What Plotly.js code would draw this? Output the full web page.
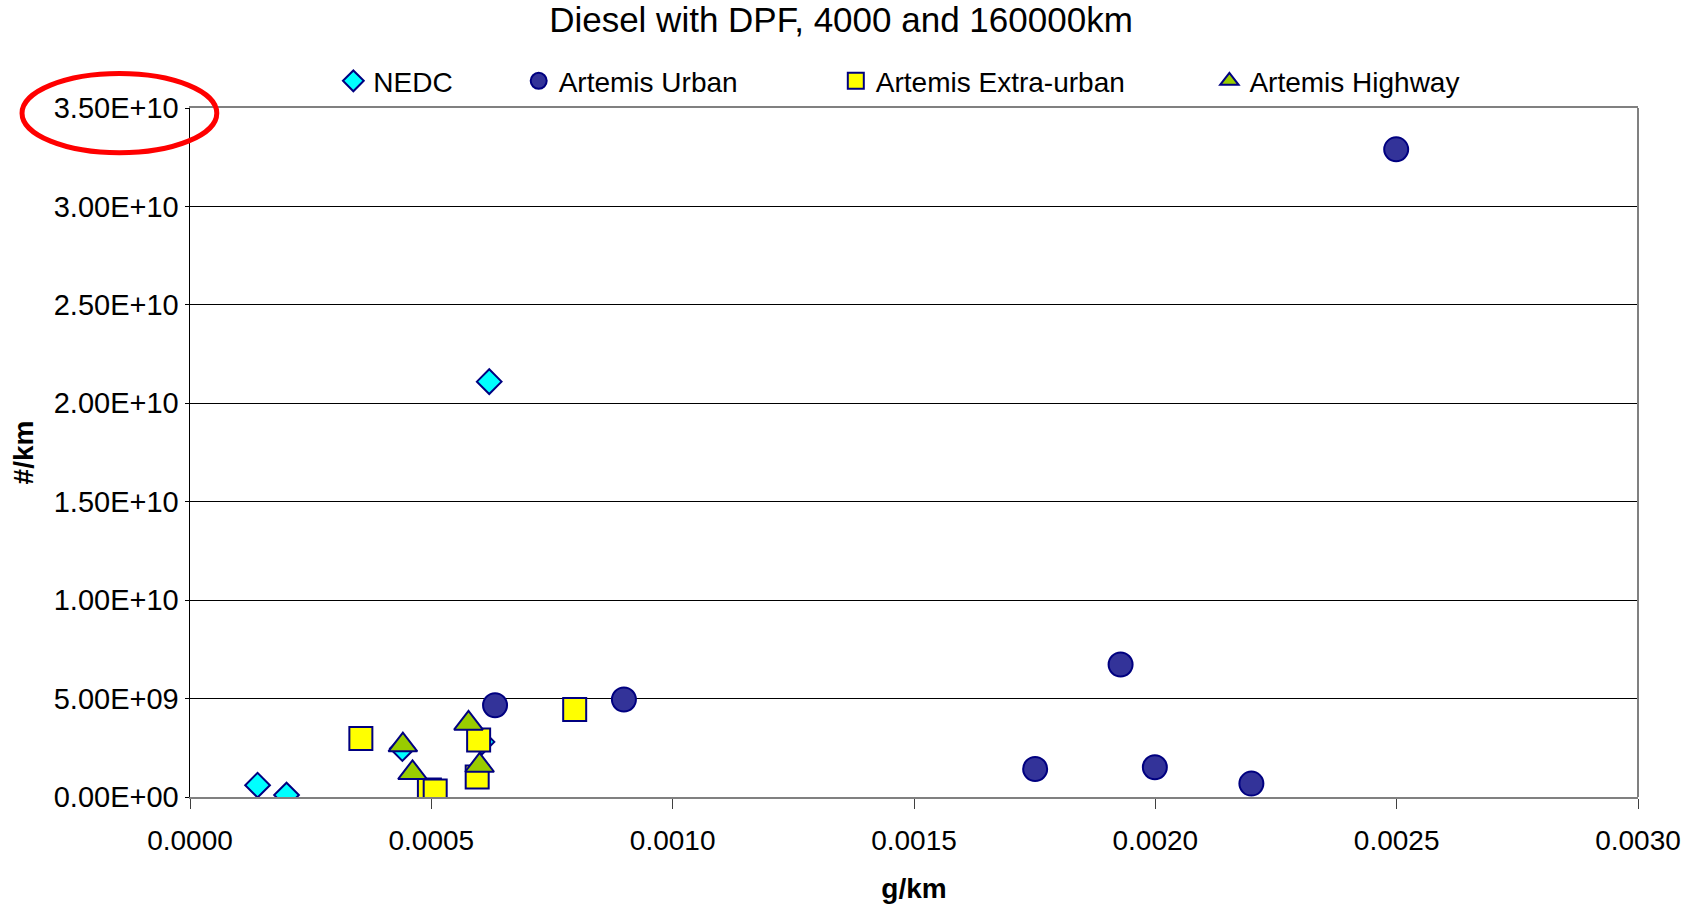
<!DOCTYPE html>
<html>
<head>
<meta charset="utf-8">
<script src="https://cdn.plot.ly/plotly-3.0.1.min.js"></script>
<style>html,body{margin:0;padding:0;background:#fff;}#chart{width:1700px;height:904px;}</style>
</head>
<body>
<div id="chart"></div>
<script>
const seriesNames = ["NEDC", "Artemis Urban", "Artemis Extra-urban", "Artemis Highway"];

const nedcX = [0.00014, 0.00020, 0.00044, 0.000605, 0.00062];
const nedcY = [0.60e9, 0.10e9, 2.46e9, 2.80e9, 2.11e10];

const urbanX = [0.000632, 0.000899, 0.001751, 0.001928, 0.001999, 0.002199, 0.002499];
const urbanY = [4.66e9, 4.95e9, 1.42e9, 6.73e9, 1.51e9, 0.68e9, 3.29e10];

const extraX = [0.000354, 0.000496, 0.000508, 0.000598, 0.000595, 0.000797];
const extraY = [2.97e9, 0.35e9, 0.30e9, 2.89e9, 1.02e9, 4.45e9];

const highwayX = [0.000441, 0.000461, 0.000577, 0.000600];
const highwayY = [2.64e9, 1.23e9, 3.74e9, 1.60e9];

const yTickVals = [0, 5e9, 1e10, 1.5e10, 2e10, 2.5e10, 3e10, 3.5e10];
const yTickText = ["0.00E+00", "5.00E+09", "1.00E+10", "1.50E+10", "2.00E+10", "2.50E+10", "3.00E+10", "3.50E+10"];
const xTickVals = [0, 0.0005, 0.001, 0.0015, 0.002, 0.0025, 0.003];
const xTickText = ["0.0000", "0.0005", "0.0010", "0.0015", "0.0020", "0.0025", "0.0030"];

const FONT = "Liberation Sans, Arial, sans-serif";
const outline = {color: "#000080", width: 2};

const traces = [
  {x: nedcX, y: nedcY, name: seriesNames[0], type: "scatter", mode: "markers", legend: "legend",
   marker: {symbol: "diamond", size: 19, color: "#00ffff", line: outline}},
  {x: urbanX, y: urbanY, name: seriesNames[1], type: "scatter", mode: "markers", legend: "legend2",
   marker: {symbol: "circle", size: 24, color: "#333399", line: outline}},
  {x: extraX, y: extraY, name: seriesNames[2], type: "scatter", mode: "markers", legend: "legend3",
   marker: {symbol: "square", size: 23, color: "#ffff00", line: outline}},
  {x: highwayX, y: highwayY, name: seriesNames[3], type: "scatter", mode: "markers", legend: "legend4",
   marker: {symbol: "triangle-up", size: 25, color: "#99cc00", line: outline}}
];

function leg(x) {
  return {x: x, xanchor: "left", y: 1.039, yanchor: "middle", orientation: "h",
          itemsizing: "trace",
          bgcolor: "rgba(0,0,0,0)", borderwidth: 0,
          font: {family: FONT, size: 28, color: "#000"}};
}

const layout = {
  width: 1700, height: 904,
  paper_bgcolor: "#fff", plot_bgcolor: "#fff",
  margin: {l: 190, r: 62, t: 108, b: 107},
  font: {family: FONT, color: "#000"},
  title: {text: "Diesel with DPF, 4000 and 160000km", font: {family: FONT, size: 35, color: "#000"},
          x: 0.4947, xanchor: "center", y: 0.978, yanchor: "middle"},
  showlegend: true,
  legend: leg(0.099),
  legend2: leg(0.227),
  legend3: leg(0.446),
  legend4: leg(0.704),
  xaxis: {
    range: [0, 0.003], tickvals: xTickVals, ticktext: xTickText,
    showgrid: false, zeroline: false,
    showline: true, linecolor: "#808080", linewidth: 2, mirror: true,
    ticks: "outside", ticklen: 10, tickcolor: "#404040", tickwidth: 1,
    ticklabelstandoff: 7,
    tickfont: {family: FONT, size: 28, color: "#000"},
    title: {text: "<b>g/km</b>", font: {family: FONT, size: 28, color: "#000"}, standoff: 25}
  },
  yaxis: {
    range: [0, 3.5e10], tickvals: yTickVals, ticktext: yTickText,
    showgrid: true, gridcolor: "#000", gridwidth: 1, zeroline: false,
    showline: true, linecolor: "#000", linewidth: 1.5, mirror: false,
    ticks: "outside", ticklen: 4, tickcolor: "#000", tickwidth: 1,
    ticklabelstandoff: 0,
    tickfont: {family: FONT, size: 29, color: "#000"},
    title: {text: "<b>#/km</b>", font: {family: FONT, size: 28, color: "#000"}, standoff: 12}
  },
  shapes: [
    {type: "line", xref: "paper", yref: "paper", x0: 1, x1: 1, y0: 0, y1: 1,
     line: {color: "#808080", width: 2}},
    {type: "circle", xref: "paper", yref: "paper", x0: -0.116, x1: 0.0185, y0: 0.935, y1: 1.050,
     line: {color: "#ff0000", width: 5}}
  ]
};

Plotly.newPlot("chart", traces, layout, {displayModeBar: false, staticPlot: true});
</script>
</body>
</html>
